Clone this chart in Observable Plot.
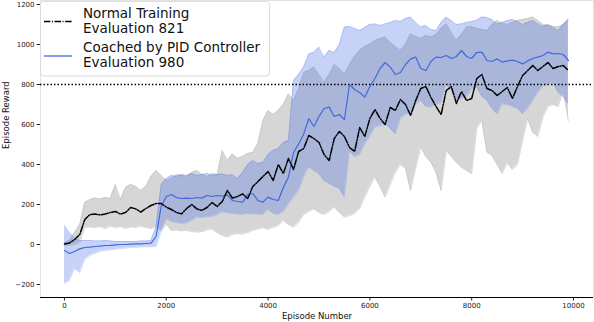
<!DOCTYPE html>
<html>
<head>
<meta charset="utf-8">
<script src="https://cdn.jsdelivr.net/npm/d3@7"></script>
<script src="https://cdn.jsdelivr.net/npm/@observablehq/plot@0.6"></script>
<style>
  html, body { margin: 0; padding: 0; background: white; }
  #chart { position: relative; width: 594px; height: 322px; }
</style>
</head>
<body>
<div id="chart"></div>
<script>
const episodes = [0,100,200,300,400,500,600,700,800,900,1000,1100,1200,1300,1400,1500,1600,1700,1800,1900,
2000,2100,2200,2300,2400,2500,2600,2700,2800,2900,3000,3100,3200,3300,3400,3500,3600,3700,3800,3900,
4000,4100,4200,4300,4400,4500,4600,4700,4800,4900,5000,5100,5200,5300,5400,5500,5600,5700,5800,5900,
6000,6100,6200,6300,6400,6500,6600,6700,6800,6900,7000,7100,7200,7300,7400,7500,7600,7700,7800,7900,
8000,8100,8200,8300,8400,8500,8600,8700,8800,8900,9000,9100,9200,9300,9400,9500,9600,9700,9800,9900];

// Normal Training (black, dash-dot) mean and band
const normalMean = [3,8,25,50,125,150,152,148,152,160,165,152,160,185,178,162,180,195,205,205,
187,175,160,153,180,200,178,170,185,210,190,215,270,232,240,253,230,290,315,340,
365,320,400,355,430,375,465,480,545,530,510,450,420,530,565,540,485,465,585,540,
630,675,630,600,685,670,725,700,645,720,780,790,735,690,650,770,790,705,765,720,
730,830,850,780,770,745,765,785,730,790,845,870,895,870,890,910,880,890,895,870];
const normalLow = [-5,-5,0,10,85,88,85,90,80,92,85,90,80,88,85,92,85,80,90,70,
100,70,72,68,70,65,62,64,72,78,60,45,37,50,55,52,60,70,78,85,
75,87,95,120,100,87,110,150,165,178,160,150,165,187,160,137,145,155,180,237,
290,337,290,237,300,360,400,380,270,380,487,440,410,360,270,470,440,410,385,370,
353,580,620,460,445,400,355,410,375,400,520,630,560,540,637,690,700,690,770,620];
const normalHigh = [10,20,60,100,210,225,232,228,235,230,300,225,285,300,290,270,290,340,370,345,
320,330,350,345,340,360,370,350,340,355,350,470,420,453,430,440,455,460,505,620,
670,650,670,700,753,720,780,860,870,887,850,810,850,900,880,850,900,940,970,990,
1003,1020,1030,1037,1010,990,970,1000,1053,1040,1030,1045,1037,1050,1080,1103,1060,1020,1050,1087,
1090,1080,1075,1070,1100,1120,1105,1100,1110,1120,1125,1130,1137,1120,1100,1095,1090,1087,1100,1130];

// Coached by PID Controller (blue) mean and band
const pidMean = [-30,-45,-35,-22,-15,-13,-10,-8,-5,-4,-2,0,0,2,3,3,5,7,40,190,
240,250,235,230,232,230,235,232,245,240,245,242,248,220,215,212,250,255,220,212,
237,225,220,285,337,460,503,553,630,590,640,680,687,640,650,625,800,775,760,737,
790,830,880,910,887,850,860,900,928,937,880,870,915,937,935,945,930,940,970,940,
930,960,962,920,915,928,912,918,922,915,903,918,930,937,945,962,953,955,950,920];
const pidLow = [-195,-180,-120,-140,-75,-55,-45,-35,-30,-28,-25,-20,-18,-15,-15,-12,-12,-12,-10,60,
130,115,110,105,108,120,137,135,137,140,150,162,160,155,153,150,155,153,152,150,
175,155,150,165,200,237,270,340,387,370,353,320,305,290,280,237,470,440,450,503,
540,587,595,603,580,553,630,653,660,700,720,690,687,700,710,803,770,720,730,737,
780,787,740,720,680,653,703,700,690,680,653,680,720,760,790,803,810,760,737,703];
const pidHigh = [95,60,30,20,20,20,18,18,20,18,15,15,15,15,15,18,18,20,90,300,
330,345,340,350,345,355,345,350,355,345,350,352,345,350,330,360,400,420,405,410,
450,470,480,510,520,820,850,887,953,960,987,937,970,960,1000,1087,1090,1080,1070,1085,
1100,1103,1095,1103,1110,1120,1115,1130,1137,1110,1087,1095,1075,1070,1110,1137,1120,1100,1103,1110,
1115,1120,1137,1135,1125,1103,1110,1120,1125,1115,1100,1110,1120,1103,1090,1100,1085,1070,1100,1120];

const xTicks = [0, 2000, 4000, 6000, 8000, 10000];
const yTicks = [-200, 0, 200, 400, 600, 800, 1000, 1200];
const threshold = [800];
const legendLabels = [["Normal Training", "Evaluation 821"], ["Coached by PID Controller", "Evaluation 980"]];

const rows = episodes.map((e, i) => ({
  e, nm: normalMean[i], nl: normalLow[i], nu: normalHigh[i],
  pm: pidMean[i], pl: pidLow[i], pu: pidHigh[i]
}));

const font = "DejaVu Sans, sans-serif";
const yMin = -265;

const plot = Plot.plot({
  width: 594,
  height: 322,
  marginLeft: 40,
  marginRight: 1,
  marginTop: 0,
  marginBottom: 25,
  style: { fontFamily: font, fontSize: "7px", background: "white", color: "#222" },
  x: { domain: [-471, 10393], ticks: xTicks, tickSize: 3.5, tickPadding: 2, label: null, tickFormat: d => String(d) },
  y: { domain: [yMin, 1220], ticks: yTicks, tickSize: 3.5, tickPadding: 2.5, label: null, tickFormat: d => d < 0 ? "\u2212" + Math.abs(d) : String(d) },
  marks: [
    Plot.frame({ stroke: "#e3e3e3" }),
    Plot.areaY(rows, { x: "e", y1: "nl", y2: "nu", fill: "#d6d6d6" }),
    Plot.line(rows, { x: "e", y: "nu", stroke: "#c4c4c4", strokeWidth: 0.7 }),
    Plot.line(rows, { x: "e", y: "nl", stroke: "#c4c4c4", strokeWidth: 0.7 }),
    Plot.areaY(rows, { x: "e", y1: "pl", y2: "pu", fill: "royalblue", fillOpacity: 0.3 }),
    Plot.line(rows, { x: "e", y: "pu", stroke: "royalblue", strokeOpacity: 0.3, strokeWidth: 0.7 }),
    Plot.line(rows, { x: "e", y: "pl", stroke: "royalblue", strokeOpacity: 0.3, strokeWidth: 0.7 }),
    Plot.ruleY(threshold, { stroke: "black", strokeWidth: 1.5, strokeDasharray: "1.5,2" }),
    Plot.line(rows, { x: "e", y: "pm", stroke: "royalblue", strokeWidth: 1.2 }),
    Plot.line(rows, { x: "e", y: "nm", stroke: "black", strokeWidth: 1.5, strokeDasharray: "6.4,1.6,1,1.6" }),
    Plot.ruleY([yMin], { stroke: "black", strokeWidth: 1 }),
    Plot.text(["Episode Number"], { frameAnchor: "bottom", dy: 21, fontSize: 8.5, fill: "#111" }),
    Plot.text(["Episode Reward"], { frameAnchor: "left", dx: -34, rotate: -90, fontSize: 8.5, fill: "#111" })
  ]
});

document.getElementById("chart").appendChild(plot);

// Legend inside the axes (top-left)
const svg = d3.select(plot);
const lg = svg.append("g").attr("font-family", font).attr("text-anchor", "start");
lg.append("rect").attr("x", 40.5).attr("y", 1.5).attr("width", 229).attr("height", 74.5)
  .attr("rx", 3).attr("fill", "white").attr("fill-opacity", 0.85).attr("stroke", "#dcdcdc");
lg.append("line").attr("x1", 44).attr("x2", 72).attr("y1", 21.5).attr("y2", 21.5)
  .attr("stroke", "black").attr("stroke-width", 1.3).attr("stroke-dasharray", "6.4,1.6,1,1.6");
lg.append("line").attr("x1", 44).attr("x2", 72).attr("y1", 56).attr("y2", 56)
  .attr("stroke", "royalblue").attr("stroke-width", 1.3);
const baselines = [[17.5, 32.5], [52, 66.5]];
legendLabels.forEach((pair, i) => {
  pair.forEach((t, j) => {
    lg.append("text").attr("x", 83).attr("y", baselines[i][j]).attr("font-size", 13.5)
      .attr("text-anchor", "start").attr("fill", "#111").text(t);
  });
});
</script>
</body>
</html>
